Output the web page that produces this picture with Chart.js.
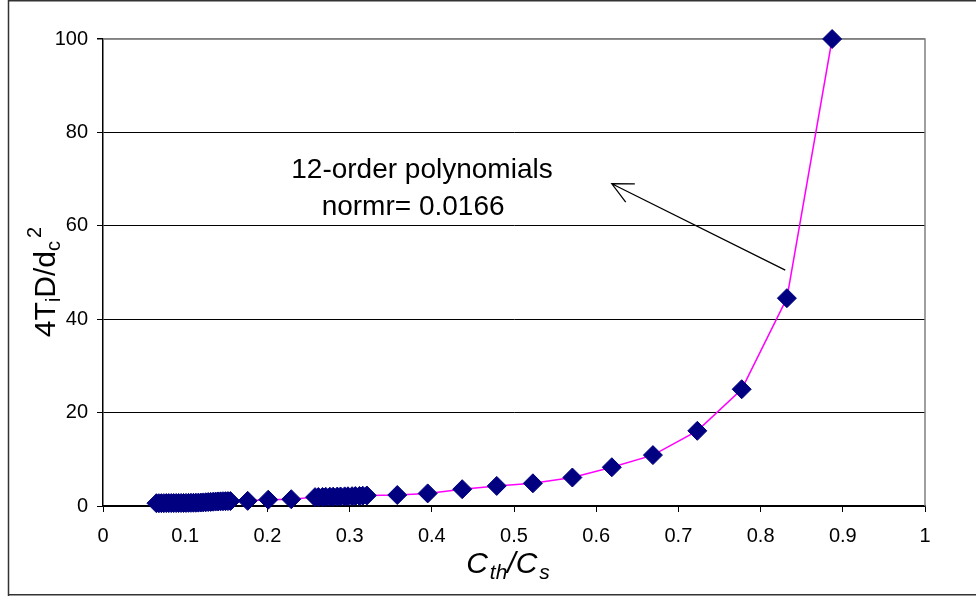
<!DOCTYPE html>
<html>
<head>
<meta charset="utf-8">
<script src="https://cdn.jsdelivr.net/npm/chart.js@4.4.1/dist/chart.umd.min.js"></script>
<style>
    html, body { margin: 0; padding: 0; background: #fff; }
    #wrap { width: 976px; height: 596px; position: relative; }
</style>
</head>
<body>
<div id="wrap"><canvas id="c"></canvas></div>
<script>
// values (Cth/Cs, 4TiD/dc^2)
const cRatio = [
    0.065, 0.068, 0.071, 0.074, 0.077, 0.080, 0.083, 0.086, 0.089, 0.092,
    0.095, 0.098, 0.101, 0.104, 0.107, 0.110, 0.113, 0.116, 0.119, 0.122,
    0.125, 0.128, 0.131, 0.134, 0.137, 0.140, 0.143, 0.146, 0.149, 0.152,
    0.155, 0.176, 0.201, 0.229,
    0.258, 0.262, 0.267, 0.271, 0.276, 0.280, 0.285, 0.289, 0.294, 0.298,
    0.303, 0.307, 0.312, 0.316, 0.321,
    0.358, 0.395, 0.437, 0.479, 0.523, 0.571, 0.619, 0.669, 0.723, 0.777,
    0.832, 0.887
];
const tValue = [
    0.60, 0.60, 0.61, 0.61, 0.62, 0.62, 0.63, 0.63, 0.64, 0.64,
    0.65, 0.65, 0.66, 0.67, 0.68, 0.69, 0.70, 0.72, 0.74, 0.77,
    0.80, 0.84, 0.88, 0.92, 0.95, 0.98, 1.00, 1.02, 1.04, 1.05,
    1.06, 1.10, 1.35, 1.45,
    1.90, 1.92, 1.94, 1.96, 1.98, 2.00, 2.02, 2.04, 2.06, 2.08,
    2.10, 2.13, 2.16, 2.20, 2.25,
    2.35, 2.70, 3.60, 4.30, 4.86, 6.10, 8.30, 10.90, 16.10, 25.00,
    44.50, 100.00
];
const xTickLabels = ["0", "0.1", "0.2", "0.3", "0.4", "0.5", "0.6", "0.7", "0.8", "0.9", "1"];
const yTickLabels = ["0", "20", "40", "60", "80", "100"];
const noteLines = ["12-order polynomials", "normr= 0.0166"];

const FONT = "'Liberation Sans', Arial, sans-serif";

// rich text: runs of {t, size, italic, dy}
function runsWidth(ctx, runs) {
    let w = 0;
    runs.forEach((r) => {
        ctx.font = (r.italic ? "italic " : "") + r.size + "px " + FONT;
        w += ctx.measureText(r.t).width + (r.gap || 0);
    });
    return w;
}
function drawRuns(ctx, runs, x, y) {
    let cx = x - runsWidth(ctx, runs) / 2;
    ctx.textBaseline = "alphabetic";
    ctx.textAlign = "left";
    runs.forEach((r) => {
        ctx.font = (r.italic ? "italic " : "") + r.size + "px " + FONT;
        ctx.fillText(r.t, cx, y + (r.dy || 0));
        cx += ctx.measureText(r.t).width + (r.gap || 0);
    });
}

const decor = {
    id: "decor",
    beforeDraw(chart) {
        const ctx = chart.ctx;
        ctx.save();
        ctx.fillStyle = "#fff";
        ctx.fillRect(0, 0, chart.width, chart.height);
        ctx.strokeStyle = "#333";
        ctx.lineWidth = 1.5;
        ctx.beginPath();
        ctx.moveTo(8.5, 596);
        ctx.lineTo(8.5, 0.75);
        ctx.lineTo(976, 0.75);
        ctx.moveTo(8.5, 594.75);
        ctx.lineTo(976, 594.75);
        ctx.stroke();
        ctx.restore();
    },
    beforeDatasetsDraw(chart) {
        const { ctx, chartArea: a } = chart;
        ctx.save();
        ctx.strokeStyle = "#808080";
        ctx.lineWidth = 1.5;
        ctx.beginPath();
        ctx.moveTo(a.left, a.top);
        ctx.lineTo(a.right, a.top);
        ctx.lineTo(a.right, a.bottom);
        ctx.stroke();
        ctx.restore();
    },
    afterDraw(chart) {
        const ctx = chart.ctx;
        const xs = chart.scales.x, ys = chart.scales.y;
        ctx.save();
        ctx.fillStyle = "#000";

        // x title  C_th / C_s
        drawRuns(ctx, [
            { t: "C", size: 30, italic: true, gap: 2 },
            { t: "th", size: 21, italic: true, dy: 6 },
            { t: "/C", size: 30, italic: true, gap: 2 },
            { t: "s", size: 21, italic: true, dy: 6 },
        ], 508, 573);

        // y title  4T_iD/d_c^2
        ctx.save();
        ctx.translate(55, 282);
        ctx.rotate(-Math.PI / 2);
        drawRuns(ctx, [
            { t: "4T", size: 30 },
            { t: "i", size: 20, dy: 5 },
            { t: "D/d", size: 30 },
            { t: "c", size: 20, dy: 5, gap: 3 },
            { t: "2", size: 20, dy: -14 },
        ], 0, 0);
        ctx.restore();

        // note
        ctx.font = "28px " + FONT;
        ctx.textAlign = "left";
        ctx.textBaseline = "alphabetic";
        ctx.fillText(noteLines[0], xs.getPixelForValue(0.229), ys.getPixelForValue(70.2));
        ctx.fillText(noteLines[1], xs.getPixelForValue(0.266), ys.getPixelForValue(62.3));

        // arrow
        const tipX = xs.getPixelForValue(0.619), tipY = ys.getPixelForValue(69.0);
        const tailX = xs.getPixelForValue(0.830), tailY = ys.getPixelForValue(50.5);
        const ang = Math.atan2(tailY - tipY, tailX - tipX);
        const len = 23, spread = 0.46;
        ctx.strokeStyle = "#000";
        ctx.lineWidth = 1.3;
        ctx.beginPath();
        ctx.moveTo(tailX, tailY);
        ctx.lineTo(tipX, tipY);
        ctx.moveTo(tipX + len * Math.cos(ang - spread), tipY + len * Math.sin(ang - spread));
        ctx.lineTo(tipX, tipY);
        ctx.lineTo(tipX + len * Math.cos(ang + spread), tipY + len * Math.sin(ang + spread));
        ctx.stroke();
        ctx.restore();
    },
};

new Chart(document.getElementById("c"), {
    type: "scatter",
    data: {
        datasets: [{
            data: cRatio.map((x, i) => ({ x, y: tValue[i] })),
            showLine: true,
            borderColor: "#ff00ff",
            borderWidth: 1.5,
            pointStyle: "rectRot",
            pointRadius: 9.5,
            pointBackgroundColor: "#000080",
            pointBorderColor: "#000080",
            pointBorderWidth: 1,
            clip: false,
        }],
    },
    options: {
        responsive: true,
        maintainAspectRatio: false,
        devicePixelRatio: 1,
        animation: false,
        layout: { padding: { left: 0, right: 51, top: 39, bottom: 0 } },
        plugins: { legend: { display: false }, tooltip: { enabled: false } },
        scales: {
            x: {
                type: "linear",
                min: 0,
                max: 1,
                afterFit: (s) => { s.height = 90; },
                ticks: {
                    stepSize: 0.1,
                    color: "#000",
                    font: { family: FONT, size: 20 },
                    padding: 12,
                    maxRotation: 0,
                    callback: (v, i) => xTickLabels[i],
                },
                grid: { drawOnChartArea: false, drawTicks: true, tickLength: 6, tickColor: "#000" },
                border: { color: "#000", width: 1.5 },
            },
            y: {
                min: 0,
                max: 100,
                afterFit: (s) => { s.width = 103; },
                ticks: {
                    stepSize: 20,
                    color: "#000",
                    font: { family: FONT, size: 20 },
                    padding: 9,
                    callback: (v, i) => yTickLabels[i],
                },
                grid: {
                    color: (c) => (c.tick && c.tick.value === 100 ? "#808080" : "#000"),
                    lineWidth: (c) => (c.tick && c.tick.value === 100 ? 1.5 : 1),
                    tickLength: 6,
                    tickColor: "#000",
                },
                border: { color: "#000", width: 1.5 },
            },
        },
    },
    plugins: [decor],
});
</script>
</body>
</html>
